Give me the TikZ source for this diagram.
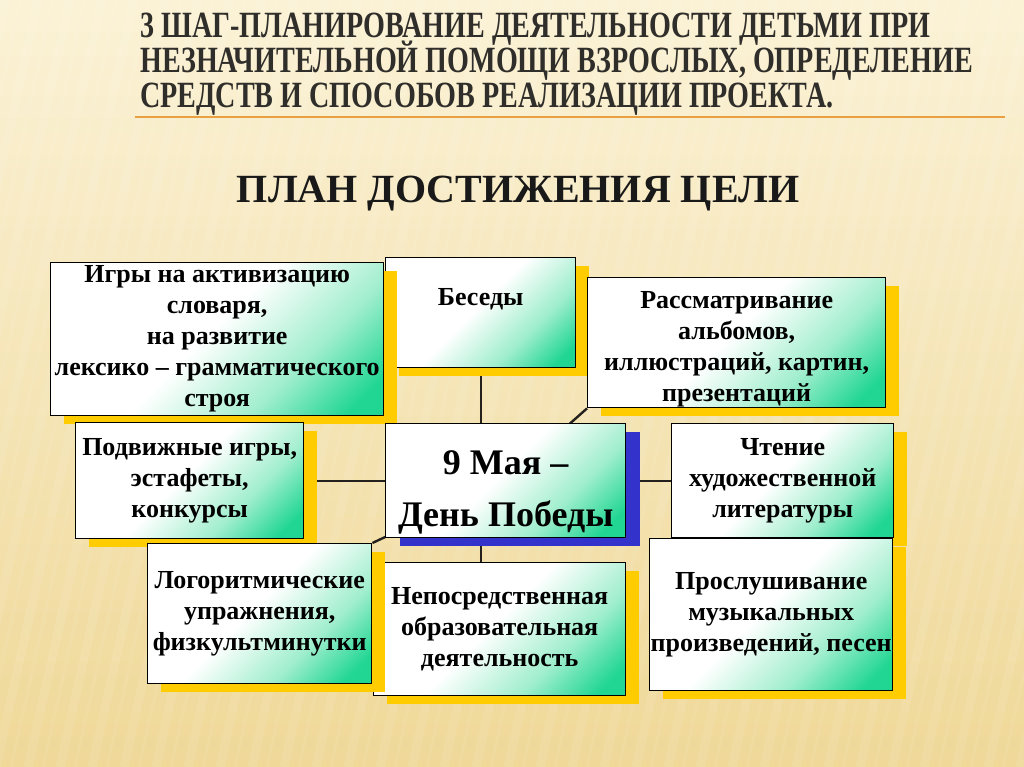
\documentclass[tikz,border=0pt]{standalone}
\usepackage{fontspec}
\setmainfont{Liberation Serif}
\newfontfamily\titlefont[FakeStretch=0.76]{Liberation Serif}
\usetikzlibrary{shadows}
\definecolor{bgtop}{RGB}{251,242,214}
\definecolor{bgbottom}{RGB}{239,216,152}
\definecolor{boxgreen}{RGB}{32,214,146}
\definecolor{boxmint}{RGB}{160,238,205}
\definecolor{boxyellow}{RGB}{255,204,0}
\definecolor{boxblue}{RGB}{51,51,204}
\definecolor{linkgray}{RGB}{36,32,30}
\definecolor{titlegray}{RGB}{48,46,42}
\definecolor{ruleorange}{RGB}{232,160,64}
\pgfdeclarehorizontalshading{greenwash}{100bp}{color(0bp)=(white); color(48bp)=(white); color(66bp)=(boxmint); color(80bp)=(boxgreen); color(100bp)=(boxgreen)}
\pgfdeclarelayer{back}
\pgfdeclarelayer{links}
\pgfsetlayers{back,links,main}
\newcommand\titletext{\titlefont\bfseries\fontsize{37}{35}\selectfont\lineskiplimit=-60pt\relax}
\newcommand\plantext{\fontsize{26}{31}\selectfont\bfseries}
\newcommand\goaltext{\fontsize{36}{52}\selectfont\bfseries}

\begin{document}
\begin{tikzpicture}[x=1pt, y=-1pt,
  plan/.style={draw=black, line width=1.4pt, shade, shading=greenwash,
    shading angle=-45, align=center, inner sep=0pt, anchor=north west, font=\plantext},
  planbox/.style={plan, drop shadow={shadow xshift=13pt, shadow yshift=-8pt, fill=boxyellow, opacity=1}},
  goalbox/.style={plan, font=\goaltext, drop shadow={shadow xshift=14pt, shadow yshift=-8pt, fill=boxblue, opacity=1}},
  link/.style={draw=linkgray, line width=2.4pt}]
\useasboundingbox (0,0) rectangle (1024,767);
\begin{pgfonlayer}{back}
\shade[top color=bgtop, bottom color=bgbottom] (0,0) rectangle (1024,767);
\begin{scope}
\clip (0,0) rectangle (1024,767);
\foreach \s in {-260,-228,...,1040}
  \draw[white, opacity=.09, line width=9pt] (\s,767) -- (\s+170,0);
\foreach \s in {-245,-213,...,1040}
  \draw[white, opacity=.07, line width=3pt] (\s,767) -- (\s+170,0);
\end{scope}
\end{pgfonlayer}

\node[anchor=base west, inner sep=0pt, align=left, text=titlegray, font=\titletext]
  (title) at (140,108)
  {3 ШАГ-ПЛАНИРОВАНИЕ ДЕЯТЕЛЬНОСТИ ДЕТЬМИ ПРИ\\
   НЕЗНАЧИТЕЛЬНОЙ ПОМОЩИ ВЗРОСЛЫХ, ОПРЕДЕЛЕНИЕ\\
   СРЕДСТВ И СПОСОБОВ РЕАЛИЗАЦИИ ПРОЕКТА.};
\draw[ruleorange, line width=2.5pt] (135,117) -- (1005,117);

\node[anchor=base, inner sep=0pt, text=black!90, font=\bfseries\fontsize{40}{40}\selectfont]
  (heading) at (518,203) {ПЛАН ДОСТИЖЕНИЯ ЦЕЛИ};

\node[planbox, minimum width=190pt, minimum height=110pt] (besedy) at (385,257) {Беседы\\\mbox{}};
\node[planbox, minimum width=298pt, minimum height=130pt] (rassm) at (587,277)
  {\rule{0pt}{31pt}Рассматривание\\альбомов,\\иллюстраций, картин,\\презентаций};
\node[planbox, minimum width=333pt, minimum height=153pt] (igry) at (50,262)
  {Игры на активизацию\\словаря,\\на развитие\\лексико – грамматического\\строя};
\node[planbox, minimum width=228pt, minimum height=116pt] (podv) at (75,422)
  {Подвижные игры,\\эстафеты,\\конкурсы};
\node[goalbox, minimum width=240pt, minimum height=114pt] (den) at (385,423)
  {\rule{0pt}{48pt}9 Мая –\\День Победы};
\node[planbox, minimum width=222pt, minimum height=114pt] (chten) at (671,423)
  {Чтение\\художественной\\литературы};
\node[planbox, minimum width=243pt, minimum height=152pt] (prosl) at (649,538)
  {Прослушивание\\музыкальных\\произведений, песен};
\node[planbox, minimum width=252pt, minimum height=133pt] (nepo) at (373,562)
  {Непосредственная\\образовательная\\деятельность};
\node[planbox, minimum width=224pt, minimum height=140pt] (logo) at (147,543)
  {Логоритмические\\упражнения,\\физкультминутки};

\begin{pgfonlayer}{links}
\draw[link] (besedy.south) -- (besedy.south |- nepo.north);
\draw[link] (podv.east) -- (chten.west);
\draw[link] (den.center) -- (rassm.south west);
\draw[link] (den.center) -- (logo.north east);
\end{pgfonlayer}
\end{tikzpicture}
\end{document}
